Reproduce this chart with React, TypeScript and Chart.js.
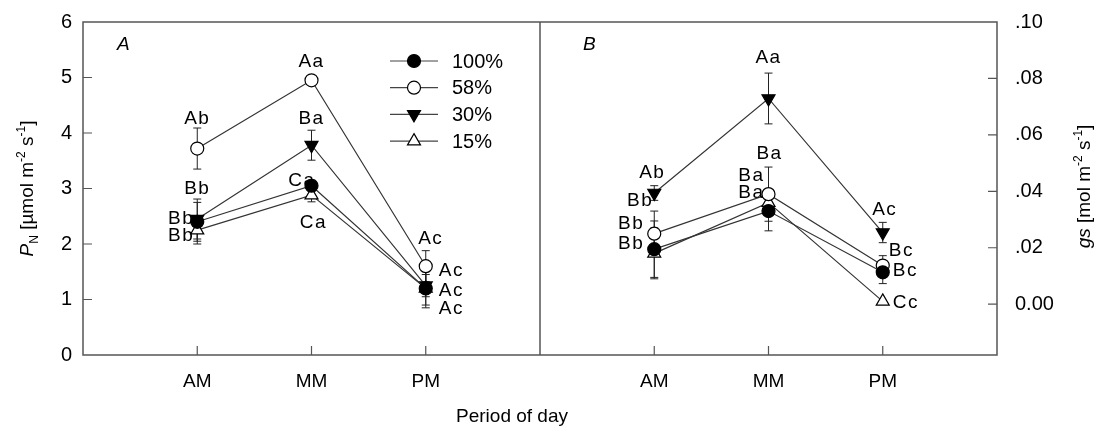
import React, { useEffect, useRef } from "react";
import { Chart, registerables } from "chart.js";
Chart.register(...registerables);

// ---------- data ----------
const categories = ["AM", "MM", "PM"];
const seriesNames = ["100%", "58%", "30%", "15%"];

// Panel A: PN [µmol m-2 s-1]
const pn100 = [2.4, 3.05, 1.2];
const pn58 = [3.72, 4.95, 1.6];
const pn30 = [2.45, 3.78, 1.25];
const pn15 = [2.25, 2.88, 1.2];
const pn100Err = [0.35, 0.1, 0.3];
const pn58Err = [0.37, 0.05, 0.28];
const pn30Err = [0.36, 0.27, 0.2];
const pn15Err = [0.25, 0.12, 0.35];
const pn100Letters = ["Bb", "Ca", "Ac"];
const pn58Letters = ["Ab", "Aa", "Ac"];
const pn30Letters = ["Bb", "Ba", "Ac"];
const pn15Letters = ["Bb", "Ca", "Ac"];

// Panel B: gs [mol m-2 s-1]
const gs100 = [0.0195, 0.033, 0.0113];
const gs58 = [0.025, 0.039, 0.0137];
const gs30 = [0.0394, 0.0729, 0.0254];
const gs15 = [0.018, 0.036, 0.001];
const gs100Err = [0.01, 0.007, 0.004];
const gs58Err = [0.008, 0.0096, 0.0035];
const gs30Err = [0.0026, 0.009, 0.0036];
const gs15Err = [0.009, 0.004, 0];
const gs100Letters = ["Bb", "Ba", "Bc"];
const gs58Letters = ["Bb", "Ba", "Bc"];
const gs30Letters = ["Ab", "Aa", "Ac"];
const gs15Letters = ["Bb", "Ba", "Cc"];

const leftTicks = [0, 1, 2, 3, 4, 5, 6];
const rightTicks = [0, 0.02, 0.04, 0.06, 0.08, 0.1];
const panelOffset = 4; // panel B categories are placed after panel A on the shared x scale

// ---------- styles ----------
const FONT = "'Liberation Sans', Arial, Helvetica, sans-serif";
Chart.defaults.font.family = FONT;

const markerStyles = [
  { shape: "circle", fill: "#000", rot: 0, r: 6.5 },
  { shape: "circle", fill: "#fff", rot: 0, r: 6.5 },
  { shape: "triangle", fill: "#000", rot: 180, r: 7.5 },
  { shape: "triangle", fill: "#fff", rot: 0, r: 7.5 },
];

type LP = [number, number, CanvasTextAlign];
// label offsets relative to each point [dx, dy, align]
const leftLabelPos: LP[][] = [
  [[-3, -3, "right"], [4, -5, "right"], [13, 2, "left"]],
  [[0, -30, "center"], [0, -19, "center"], [5, -27, "center"]],
  [[0, -30, "center"], [0, -26, "center"], [13, -15, "left"]],
  [[-3, 6, "right"], [2, 28, "center"], [13, 20, "left"]],
];
const rightLabelPos: LP[][] = [
  [[-10, -25, "right"], [-4, -35, "right"], [10, -2, "left"]],
  [[-1, -33, "right"], [1, -40, "center"], [6, -15, "left"]],
  [[-2, -20, "center"], [0, -41, "center"], [2, -23, "center"]],
  [[-10, -10, "right"], [-4, -10, "right"], [10, 1, "left"]],
];

const leftSeries = [
  { values: pn100, err: pn100Err, letters: pn100Letters },
  { values: pn58, err: pn58Err, letters: pn58Letters },
  { values: pn30, err: pn30Err, letters: pn30Letters },
  { values: pn15, err: pn15Err, letters: pn15Letters },
];
const rightSeries = [
  { values: gs100, err: gs100Err, letters: gs100Letters },
  { values: gs58, err: gs58Err, letters: gs58Letters },
  { values: gs30, err: gs30Err, letters: gs30Letters },
  { values: gs15, err: gs15Err, letters: gs15Letters },
];

function drawMarker(ctx: CanvasRenderingContext2D, x: number, y: number, m: any) {
  ctx.save();
  ctx.fillStyle = m.fill;
  ctx.strokeStyle = "#000";
  ctx.lineWidth = 1.2;
  ctx.beginPath();
  if (m.shape === "circle") {
    ctx.arc(x, y, m.r, 0, Math.PI * 2);
  } else {
    let rad = (m.rot * Math.PI) / 180;
    for (let k = 0; k < 3; k++) {
      const px = x + Math.sin(rad) * m.r;
      const py = y - Math.cos(rad) * m.r;
      if (k === 0) ctx.moveTo(px, py);
      else ctx.lineTo(px, py);
      rad += (2 * Math.PI) / 3;
    }
    ctx.closePath();
  }
  ctx.fill();
  ctx.stroke();
  ctx.restore();
}

type Part = { t: string; size?: number; italic?: boolean; dy?: number };
function drawRich(ctx: CanvasRenderingContext2D, parts: Part[], cx: number, cy: number, base: number) {
  ctx.save();
  ctx.translate(cx, cy);
  ctx.rotate(-Math.PI / 2);
  ctx.textBaseline = "alphabetic";
  ctx.textAlign = "left";
  ctx.fillStyle = "#000";
  const fontOf = (p: Part) => `${p.italic ? "italic " : ""}${p.size || base}px ${FONT}`;
  let total = 0;
  for (const p of parts) {
    ctx.font = fontOf(p);
    total += ctx.measureText(p.t).width;
  }
  let x = -total / 2;
  const yb = base * 0.36;
  for (const p of parts) {
    ctx.font = fontOf(p);
    ctx.fillText(p.t, x, yb + (p.dy || 0));
    x += ctx.measureText(p.t).width;
  }
  ctx.restore();
}

const decorPlugin = {
  id: "decor",
  beforeDatasetsDraw(chart: any) {
    const ctx = chart.ctx as CanvasRenderingContext2D;
    const ca = chart.chartArea;
    const xs = chart.scales.x;
    const ys = chart.scales.y;
    const y1 = chart.scales.y1;
    ctx.save();
    // frame
    ctx.strokeStyle = "#555";
    ctx.lineWidth = 1.5;
    ctx.strokeRect(ca.left, ca.top, ca.right - ca.left, ca.bottom - ca.top);
    const xd = xs.getPixelForValue(panelOffset - 1);
    ctx.beginPath();
    ctx.moveTo(xd, ca.top);
    ctx.lineTo(xd, ca.bottom);
    ctx.stroke();
    // tick marks (inside)
    ctx.lineWidth = 1.2;
    ctx.beginPath();
    for (const v of leftTicks.slice(1, -1)) {
      const py = ys.getPixelForValue(v);
      ctx.moveTo(ca.left, py);
      ctx.lineTo(ca.left + 9, py);
    }
    for (const v of rightTicks.slice(0, -1)) {
      const py = y1.getPixelForValue(v);
      ctx.moveTo(ca.right, py);
      ctx.lineTo(ca.right - 9, py);
    }
    categories.forEach((_, i) => {
      for (const off of [0, panelOffset]) {
        const px = xs.getPixelForValue(i + off);
        ctx.moveTo(px, ca.bottom);
        ctx.lineTo(px, ca.bottom - 9);
      }
    });
    ctx.stroke();
    // error bars
    ctx.strokeStyle = "#222";
    ctx.lineWidth = 1;
    const drawErr = (series: any[], off: number, scale: any) => {
      series.forEach((s) => {
        s.values.forEach((v: number, i: number) => {
          const e = s.err[i];
          if (!e) return;
          const px = xs.getPixelForValue(i + off);
          const top = scale.getPixelForValue(v + e);
          const bot = scale.getPixelForValue(v - e);
          ctx.beginPath();
          ctx.moveTo(px, top);
          ctx.lineTo(px, bot);
          ctx.moveTo(px - 4, top);
          ctx.lineTo(px + 4, top);
          ctx.moveTo(px - 4, bot);
          ctx.lineTo(px + 4, bot);
          ctx.stroke();
        });
      });
    };
    drawErr(leftSeries, 0, ys);
    drawErr(rightSeries, panelOffset, y1);
    ctx.restore();
  },
  afterDraw(chart: any) {
    const ctx = chart.ctx as CanvasRenderingContext2D;
    const ca = chart.chartArea;
    const xs = chart.scales.x;
    const ys = chart.scales.y;
    const y1 = chart.scales.y1;
    ctx.save();
    ctx.fillStyle = "#000";
    // significance letters
    ctx.font = `19px ${FONT}`;
    (ctx as any).letterSpacing = "1.5px";
    ctx.textBaseline = "middle";
    const drawLetters = (series: any[], pos: LP[][], off: number, scale: any) => {
      series.forEach((s, si) => {
        s.values.forEach((v: number, i: number) => {
          const [dx, dy, al] = pos[si][i];
          ctx.textAlign = al;
          ctx.fillText(s.letters[i], xs.getPixelForValue(i + off) + dx, scale.getPixelForValue(v) + dy);
        });
      });
    };
    drawLetters(leftSeries, leftLabelPos, 0, ys);
    drawLetters(rightSeries, rightLabelPos, panelOffset, y1);
    (ctx as any).letterSpacing = "0px";
    // panel labels
    ctx.font = `italic 19px ${FONT}`;
    ctx.textAlign = "left";
    ctx.fillText("A", ca.left + 34, ca.top + 23);
    ctx.fillText("B", xs.getPixelForValue(panelOffset - 1) + 43, ca.top + 23);
    // legend
    const lx = ca.left + 307;
    seriesNames.forEach((name, k) => {
      const ly = ca.top + 39 + k * 26.7;
      ctx.strokeStyle = "#444";
      ctx.lineWidth = 1.2;
      ctx.beginPath();
      ctx.moveTo(lx, ly);
      ctx.lineTo(lx + 48, ly);
      ctx.stroke();
      drawMarker(ctx, lx + 24, ly, markerStyles[k]);
      ctx.fillStyle = "#000";
      ctx.font = `20px ${FONT}`;
      ctx.textAlign = "left";
      ctx.textBaseline = "middle";
      ctx.fillText(name, lx + 62, ly + 1);
    });
    // x title
    ctx.font = `19px ${FONT}`;
    ctx.textAlign = "center";
    ctx.fillText("Period of day", 512, ca.bottom + 62);
    ctx.restore();
    // y titles
    drawRich(
      ctx,
      [
        { t: "P", italic: true },
        { t: "N", size: 12, dy: 5 },
        { t: " [µmol m" },
        { t: "-2", size: 12, dy: -8 },
        { t: " s" },
        { t: "-1", size: 12, dy: -8 },
        { t: "]" },
      ],
      26,
      (ca.top + ca.bottom) / 2,
      19
    );
    drawRich(
      ctx,
      [
        { t: "gs", italic: true },
        { t: " [mol m" },
        { t: "-2", size: 12, dy: -8 },
        { t: " s" },
        { t: "-1", size: 12, dy: -8 },
        { t: "]" },
      ],
      1083,
      (ca.top + ca.bottom) / 2 - 2,
      19
    );
  },
};

function makeDatasets(series: any[], off: number, axis: string) {
  return series.map((s, k) => ({
    label: seriesNames[k],
    data: s.values.map((v: number, i: number) => ({ x: i + off, y: v })),
    yAxisID: axis,
    borderColor: "#333",
    borderWidth: 1.2,
    pointStyle: markerStyles[k].shape,
    pointRotation: markerStyles[k].rot,
    pointRadius: markerStyles[k].r,
    pointBackgroundColor: markerStyles[k].fill,
    pointBorderColor: "#000",
    pointBorderWidth: 1.2,
    fill: false,
    tension: 0,
  }));
}

export default function App() {
  const ref = useRef<HTMLCanvasElement>(null);
  useEffect(() => {
    document.body.style.margin = "0";
    const canvas = ref.current!;
    const chart = new Chart(canvas, {
      type: "line",
      data: {
        datasets: [
          ...makeDatasets(leftSeries, 0, "y"),
          ...makeDatasets(rightSeries, panelOffset, "y1"),
        ] as any,
      },
      options: {
        animation: false,
        responsive: false,
        devicePixelRatio: 1,
        layout: { padding: { top: 11, left: 0, right: 0, bottom: 0 } },
        plugins: { legend: { display: false }, tooltip: { enabled: false } },
        scales: {
          x: {
            type: "linear",
            min: -1,
            max: 7,
            grid: { display: false },
            border: { display: false },
            afterBuildTicks: (a: any) => {
              a.ticks = [0, 1, 2].flatMap((i) => [i, i + panelOffset]).sort((p, q) => p - q).map((v) => ({ value: v }));
            },
            ticks: {
              autoSkip: false,
              maxRotation: 0,
              color: "#000",
              font: { size: 19 },
              padding: 7,
              callback: (v: any) => {
                const n = Number(v);
                return n < panelOffset ? categories[n] : categories[n - panelOffset];
              },
            },
            afterFit: (s: any) => {
              s.height = 82;
            },
          },
          y: {
            position: "left",
            min: 0,
            max: 6,
            grid: { display: false },
            border: { display: false },
            afterBuildTicks: (a: any) => {
              a.ticks = leftTicks.map((v) => ({ value: v }));
            },
            ticks: { color: "#000", font: { size: 20 }, padding: 3 },
            afterFit: (s: any) => {
              s.width = 83;
            },
          },
          y1: {
            position: "right",
            min: -0.018,
            max: 0.1,
            grid: { display: false },
            border: { display: false },
            afterBuildTicks: (a: any) => {
              a.ticks = rightTicks.map((v) => ({ value: v }));
            },
            ticks: {
              color: "#000",
              font: { size: 20 },
              padding: 10,
              callback: (v: any) => {
                const n = Number(v);
                return n === 0 ? "0.00" : n.toFixed(2).replace(/^0/, "");
              },
            },
            afterFit: (s: any) => {
              s.width = 101;
            },
          },
        },
      } as any,
      plugins: [decorPlugin],
    });
    return () => chart.destroy();
  }, []);
  return (
    <div style={{ width: 1098, height: 437, position: "relative" }}>
      <canvas ref={ref} width={1098} height={437} style={{ display: "block", width: 1098, height: 437 }} />
    </div>
  );
}
